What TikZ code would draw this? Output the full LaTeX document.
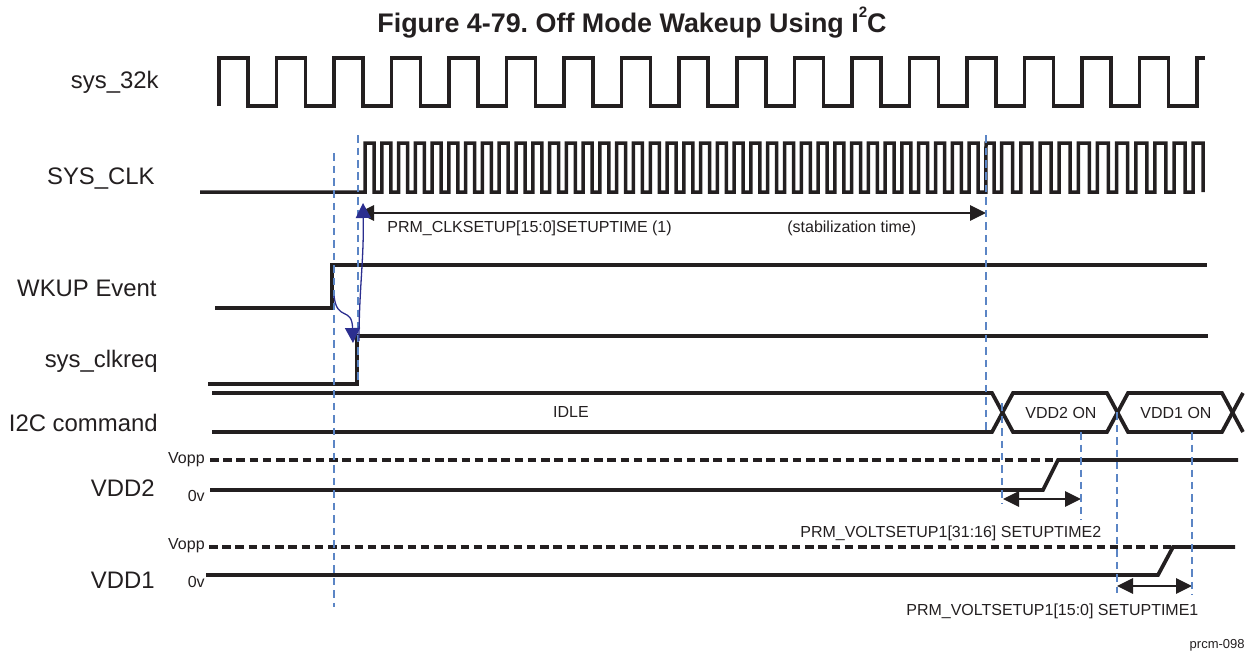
\documentclass[tikz,border=0pt]{standalone}
\usepackage{fontspec}
\setmainfont{Liberation Sans}
\usetikzlibrary{arrows.meta}
\definecolor{ink}{HTML}{231F20}
\definecolor{guide}{HTML}{5B85C5}
\definecolor{cause}{HTML}{2B2E8F}
\begin{document}
\begin{tikzpicture}[x=0.02cm,y=-0.02cm,text=ink]
\tikzstyle{sig}=[draw=ink,line width=0.075cm,line join=miter]
\tikzstyle{clk}=[draw=ink,line width=0.07cm,line join=miter]
\tikzstyle{sigdash}=[sig,dash pattern=on 0.17cm off 0.095cm]
\tikzstyle{guideline}=[draw=guide,line width=0.026cm,dash pattern=on 0.15cm off 0.1cm]
\tikzstyle{span}=[draw=ink,line width=0.028cm,{Triangle[length=0.32cm,width=0.31cm]}-{Triangle[length=0.32cm,width=0.31cm]}]
\tikzstyle{why}=[draw=cause,line width=0.026cm,-{Triangle[length=0.3cm,width=0.3cm]},color=cause]
\tikzstyle{lab}=[font=\fontsize{13.6}{15}\selectfont,inner sep=0pt,anchor=base east]
\tikzstyle{tiny}=[font=\fontsize{9.1}{10}\selectfont,inner sep=0pt,anchor=base]
\useasboundingbox (0,0) rectangle (1248,650);
\node[font=\fontsize{15.3}{17}\selectfont\bfseries\frenchspacing,inner sep=0pt,anchor=base west] (title) at (377,32) {Figure 4-79. Off Mode Wakeup Using I\raisebox{0.55em}{\fontsize{8.6}{9}\selectfont 2}C};
\node[lab] (n32k) at (159,88) {sys\_32k};
\node[lab] (nclk) at (155,184) {SYS\_CLK};
\node[lab] (nwkup) at (157,296) {WKUP Event};
\node[lab] (nreq) at (158,367) {sys\_clkreq};
\node[lab] (ni2c) at (158,431) {I2C command};
\node[lab] (nvdd2) at (155,496) {VDD2};
\node[lab] (nvdd1) at (155,588) {VDD1};
\node[tiny,anchor=base east] (vopp2) at (205,463) {Vopp};
\node[tiny,anchor=base east] (zero2) at (205,501) {0v};
\node[tiny,anchor=base east] (vopp1) at (205,549) {Vopp};
\node[tiny,anchor=base east] (zero1) at (205,587) {0v};
\draw[clk] (219,106) -- (219,58) \foreach \i in {0,...,16} { -- ({219+\i*57.53+29},58) -- ({219+\i*57.53+29},106) -- ({219+\i*57.53+57.53},106) -- ({219+\i*57.53+57.53},58)} -- (1205,58);
\draw[clk] (200,192) -- (365,192) \foreach \i in {0,...,36} { -- ({365+\i*16.78},143) -- ({365+\i*16.78+9},143) -- ({365+\i*16.78+9},192) -- ({365+\i*16.78+16.78},192)} -- (986,143) -- (994,143) -- (994,192) -- (1001.7,192) \foreach \i in {0,...,9} { -- ({1001.7+\i*19.15},143) -- ({1001.7+\i*19.15+11},143) -- ({1001.7+\i*19.15+11},192) -- ({1001.7+\i*19.15+19.15},192)} -- (1193,143) -- (1203,143) -- (1203,192);
\draw[sig] (215,308) -- (332,308) -- (332,265) -- (1207,265);
\draw[sig] (208,384) -- (357,384) -- (357,336) -- (1208,336);
\draw[sig] (212,393) -- (992,393) -- (1013,432) -- (1107,432) -- (1128,393) -- (1222,393) -- (1243,432);
\draw[sig] (212,432) -- (992,432) -- (1013,393) -- (1107,393) -- (1128,432) -- (1222,432) -- (1243,393);
\node[tiny] (idle) at (571,417) {IDLE};
\node[tiny] (on2) at (1061,418) {VDD2 ON};
\node[tiny] (on1) at (1176,418) {VDD1 ON};
\draw[sigdash] (210,460) -- (1058,460);
\draw[sig] (210,490) -- (1043,490) -- (1058,460) -- (1238,460);
\draw[sigdash] (209,547) -- (1173,547);
\draw[sig] (206,575) -- (1158,575) -- (1173,547) -- (1235,547);
\coordinate (clkA) at (358,213); \coordinate (clkB) at (986,213);
\coordinate (v2A) at (1003,499); \coordinate (v2B) at (1081,499);
\coordinate (v1A) at (1117,586); \coordinate (v1B) at (1192,586);
\draw[span] (clkA) -- (clkB); \draw[span] (v2A) -- (v2B); \draw[span] (v1A) -- (v1B);
\node[tiny,anchor=base west] (setup) at (387,232) {PRM\_CLKSETUP[15:0]SETUPTIME (1)};
\node[tiny,anchor=base west] (stab) at (787,232) {(stabilization time)};
\node[tiny,anchor=base west] (volt2) at (800,537) {PRM\_VOLTSETUP1[31:16] SETUPTIME2};
\node[tiny,anchor=base west] (volt1) at (906,615) {PRM\_VOLTSETUP1[15:0] SETUPTIME1};
\node[font=\fontsize{7.4}{8}\selectfont,inner sep=0pt,anchor=base east] (tag) at (1245,648) {prcm-098};
\draw[guideline] (334,153) -- (334,607);
\draw[guideline] (358,135) -- (358,380);
\draw[guideline] (986,135) -- (986,432);
\draw[guideline] (1002,403) -- (1002,503);
\draw[guideline] (1081,432) -- (1081,520);
\draw[guideline] (1117,412) -- (1117,593);
\draw[guideline] (1192,432) -- (1192,595);
\draw[why] (334,296) .. controls (337,322) and (352,306) .. (353,343);
\draw[why] (359,341) .. controls (359,290) and (364,260) .. (363,203);
\end{tikzpicture}
\end{document}
